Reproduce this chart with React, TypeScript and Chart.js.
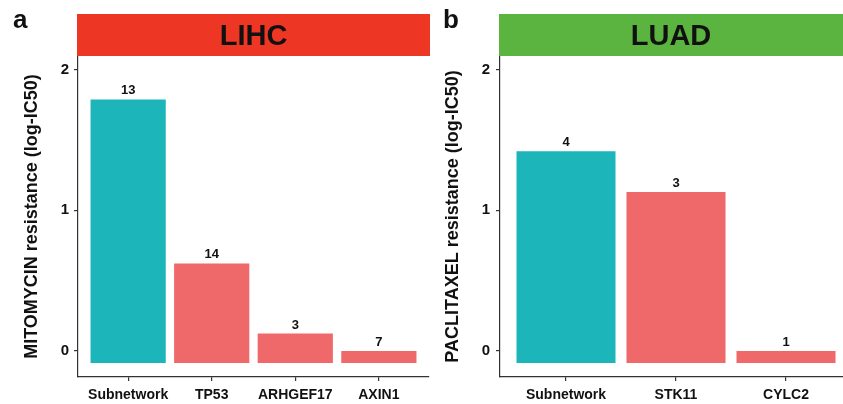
import React, { useEffect, useRef } from 'react';
import { Chart, registerables } from 'chart.js';

Chart.register(...registerables);

const FONT = "'Liberation Sans', Arial, Helvetica, sans-serif";

// Panel a (LIHC)
const categoriesA = ['Subnetwork', 'TP53', 'ARHGEF17', 'AXIN1'];
const valuesA = [1.79, 0.62, 0.12, 0.0];
const countsA = ['13', '14', '3', '7'];

// Panel b (LUAD)
const categoriesB = ['Subnetwork', 'STK11', 'CYLC2'];
const valuesB = [1.42, 1.13, 0.0];
const countsB = ['4', '3', '1'];

const barBase = -0.09;
const yTicks = [0, 1, 2];

const TEAL = '#1CB5BA';
const CORAL = '#F0696A';
const AXIS = '#333333';
const TEXT = '#111111';

type PanelProps = {
  categories: string[];
  values: number[];
  counts: string[];
  title: string;
  stripColor: string;
  letter: string;
  letterX: number;
  yTitle: string;
  yWidth: number;
  titlePad: number;
  tickPad: number;
  xMax: number;
  padRight: number;
  width: number;
  left: number;
};

function Panel(p: PanelProps) {
  const ref = useRef<HTMLCanvasElement | null>(null);
  useEffect(() => {
    if (!ref.current) return;
    const stripPlugin = {
      id: 'strip' + p.letter,
      afterDraw(chart: any) {
        const { ctx, chartArea } = chart;
        const x0 = chartArea.left - 1;
        const x1 = chart.width;
        ctx.save();
        ctx.fillStyle = p.stripColor;
        ctx.fillRect(x0, 14, x1 - x0, 42);
        ctx.fillStyle = TEXT;
        ctx.font = `bold 29px ${FONT}`;
        ctx.textAlign = 'center';
        ctx.textBaseline = 'alphabetic';
        ctx.fillText(p.title, (x0 + x1) / 2, 45);
        ctx.font = `bold 26px ${FONT}`;
        ctx.textAlign = 'left';
        ctx.fillText(p.letter, p.letterX, 28);
        ctx.restore();
      },
    };
    const labelPlugin = {
      id: 'labels' + p.letter,
      afterDatasetsDraw(chart: any) {
        const { ctx } = chart;
        const meta = chart.getDatasetMeta(0);
        ctx.save();
        ctx.fillStyle = TEXT;
        ctx.font = `bold 13px ${FONT}`;
        ctx.textAlign = 'center';
        ctx.textBaseline = 'alphabetic';
        meta.data.forEach((el: any, i: number) => {
          const top = Math.min(el.y, el.base);
          ctx.fillText(p.counts[i], el.x, top - 5);
        });
        ctx.restore();
      },
    };
    const chart = new Chart(ref.current, {
      type: 'bar',
      data: {
        datasets: [
          {
            data: p.values.map((v, i) => ({ x: i, y: [barBase, v] })) as any,
            backgroundColor: p.values.map((_, i) => (i === 0 ? TEAL : CORAL)),
            borderWidth: 0,
            categoryPercentage: 1,
            barPercentage: 0.9,
          },
        ],
      },
      options: {
        responsive: false,
        animation: false,
        events: [],
        layout: { padding: { top: 56, left: 0, right: p.padRight, bottom: 0 } },
        plugins: { legend: { display: false }, tooltip: { enabled: false } },
        scales: {
          x: {
            type: 'linear',
            min: -0.6,
            max: p.xMax,
            offset: false,
            grid: {
              display: true,
              drawOnChartArea: false,
              drawTicks: true,
              tickLength: 4,
              color: AXIS,
              lineWidth: 1.2,
              offset: false,
            },
            border: { display: true, color: AXIS, width: 1.2 },
            afterBuildTicks: (s: any) => {
              s.ticks = p.categories.map((_, i) => ({ value: i }));
            },
            ticks: {
              callback: (v: any) => p.categories[v as number] ?? '',
              font: { family: FONT, size: 14, weight: 'bold' },
              color: TEXT,
              padding: 6,
              autoSkip: false,
              maxRotation: 0,
              minRotation: 0,
            },
            afterFit: (s: any) => {
              s.height = 27;
            },
          } as any,
          y: {
            type: 'linear',
            min: -0.19,
            max: 2.1,
            grid: {
              display: true,
              drawOnChartArea: false,
              drawTicks: true,
              tickLength: 4,
              color: AXIS,
              lineWidth: 1.2,
            },
            border: { display: true, color: AXIS, width: 1.2 },
            afterBuildTicks: (s: any) => {
              s.ticks = yTicks.map((v) => ({ value: v }));
            },
            ticks: {
              font: { family: FONT, size: 15, weight: 'bold' },
              color: TEXT,
              padding: p.tickPad,
            },
            title: {
              display: true,
              text: p.yTitle,
              font: { family: FONT, size: 18, weight: 'bold' },
              color: TEXT,
              padding: { top: p.titlePad, bottom: 0 },
            },
            afterFit: (s: any) => {
              s.width = p.yWidth;
            },
          } as any,
        },
      },
      plugins: [stripPlugin, labelPlugin],
    });
    return () => chart.destroy();
  }, []);
  return (
    <canvas
      ref={ref}
      width={p.width}
      height={404}
      style={{ position: 'absolute', left: p.left, top: 0, width: p.width, height: 404 }}
    />
  );
}

export default function App() {
  return (
    <div
      style={{
        position: 'fixed',
        left: 0,
        top: 0,
        width: 843,
        height: 404,
        background: '#ffffff',
        overflow: 'hidden',
      }}
    >
      <Panel
        categories={categoriesA}
        values={valuesA}
        counts={countsA}
        title="LIHC"
        stripColor="#EE3624"
        letter="a"
        letterX={13}
        yTitle="MITOMYCIN resistance (log-IC50)"
        yWidth={78}
        titlePad={21}
        tickPad={5}
        xMax={3.6}
        padRight={1}
        width={430}
        left={0}
      />
      <Panel
        categories={categoriesB}
        values={valuesB}
        counts={countsB}
        title="LUAD"
        stripColor="#5AB43F"
        letter="b"
        letterX={13}
        yTitle="PACLITAXEL resistance (log-IC50)"
        yWidth={70}
        titlePad={12}
        tickPad={6}
        xMax={2.518}
        padRight={0}
        width={413}
        left={430}
      />
    </div>
  );
}
